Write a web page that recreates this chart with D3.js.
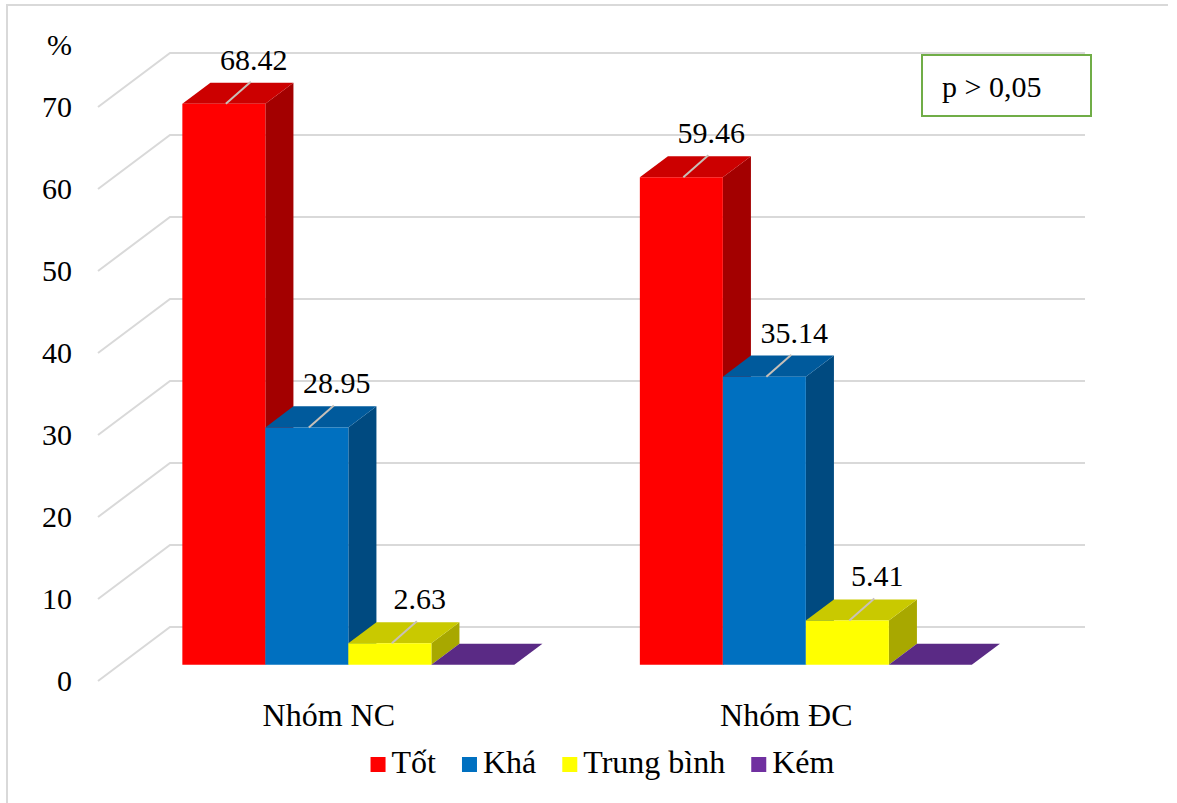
<!DOCTYPE html>
<html>
<head>
<meta charset="utf-8">
<script src="https://cdn.jsdelivr.net/npm/d3@7"></script>
<style>
  html, body { margin: 0; padding: 0; background: #fff; }
  svg { display: block; }
</style>
</head>
<body>
<script>
// Chart data
const categories = ["Nhóm NC", "Nhóm ĐC"];
const seriesNames = ["Tốt", "Khá", "Trung bình", "Kém"];
const tot = [68.42, 59.46];
const kha = [28.95, 35.14];
const trungBinh = [2.63, 5.41];
const kem = [0, 0];
const yTicks = [0, 10, 20, 30, 40, 50, 60, 70];
const yUnit = "%";
const pNote = "p > 0,05";

const seriesValues = [tot, kha, trungBinh, kem];
// face colours per series: front, top, right side
const seriesColors = [
  { front: "#ff0000", top: "#cc0000", side: "#a30000" },
  { front: "#0070c0", top: "#005a9c", side: "#004a80" },
  { front: "#ffff00", top: "#c9c900", side: "#a8a800" },
  { front: "#7030a0", top: "#5a2a85", side: "#4b2270" }
];

const FONT = "'Liberation Serif', 'Times New Roman', Tinos, 'DejaVu Serif', serif";
const W = 1177, H = 803;
const svg = d3.select("body").append("svg").attr("width", W).attr("height", H)
  .style("font-family", FONT);

const label = (sel, size) => sel.style("font-family", FONT).style("font-size", size + "px").attr("fill", "#000");

// outer frame (top and left edges)
svg.append("path")
  .attr("d", `M7,${H} L7,5 L1168,5`)
  .attr("fill", "none").attr("stroke", "#d9d9d9").attr("stroke-width", 2);

// scales: front plane of the floor, oblique depth vector
const x0 = d3.scaleBand().domain(categories).range([98, 1013]).padding(0);
const x1 = d3.scaleBand().domain(seriesNames).range([0, x0.bandwidth()])
  .paddingInner(0).paddingOuter(0.756);
const y = d3.scaleLinear().domain([0, 70]).range([681, 107]);
const depth = { dx: 72, dy: -54 };
const z0 = 0.3, z1 = 0.69;
const P = (x, v, z) => [x + z * depth.dx, y(v) + z * depth.dy];
const poly = pts => "M" + pts.map(p => p.join(",")).join("L") + "Z";

// gridlines: side wall diagonal + back wall horizontal
const grid = svg.append("g");
yTicks.forEach(t => {
  const a = P(x0.range()[0], t, 0), b = P(x0.range()[0], t, 1), c = P(x0.range()[1], t, 1);
  grid.append("path")
    .attr("d", `M${a}L${b}L${c}`)
    .attr("fill", "none").attr("stroke", "#d9d9d9").attr("stroke-width", 2);
});

// value axis labels
const axis = svg.append("g")
  .attr("transform", `translate(${x0.range()[0]},0)`)
  .call(d3.axisLeft(y).tickValues(yTicks).tickSize(0).tickPadding(26).tickFormat(d3.format("d")));
axis.attr("font-family", null).attr("font-size", null);
axis.select(".domain").remove();
label(axis.selectAll("text"), 30);

label(svg.append("text").attr("x", 72).attr("y", 55).attr("text-anchor", "end"), 30).text(yUnit);

// 3D bars
const bars = svg.append("g");
const labels = svg.append("g");
categories.forEach((cat, i) => {
  seriesNames.forEach((s, j) => {
    const v = seriesValues[j][i];
    const col = seriesColors[j];
    const xl = x0(cat) + x1(s), xr = xl + x1.bandwidth();
    const g = bars.append("g");
    if (v > 0) {
      g.append("path").attr("d", poly([P(xr, 0, z0), P(xr, 0, z1), P(xr, v, z1), P(xr, v, z0)]))
        .attr("fill", col.side);
    }
    g.append("path").attr("d", poly([P(xl, v, z0), P(xr, v, z0), P(xr, v, z1), P(xl, v, z1)]))
      .attr("fill", col.top);
    if (v > 0) {
      g.append("path").attr("d", poly([P(xl, 0, z0), P(xr, 0, z0), P(xr, v, z0), P(xl, v, z0)]))
        .attr("fill", col.front);
      const [cx, ty] = P((xl + xr) / 2, v, z0);
      labels.append("line")
        .attr("x1", cx + 2).attr("y1", ty)
        .attr("x2", cx + 27).attr("y2", ty - 22)
        .attr("stroke", "#c8c0b8").attr("stroke-width", 2);
      label(labels.append("text")
        .attr("x", cx + 30).attr("y", ty - 34)
        .attr("text-anchor", "middle"), 30)
        .text(v.toFixed(2));
    }
  });
});

// category labels
label(svg.append("g").selectAll("text").data(categories).join("text")
  .attr("x", d => x0(d) + x0.bandwidth() / 2 + 2)
  .attr("y", 726)
  .attr("text-anchor", "middle"), 32)
  .text(d => d);

// legend
const legend = svg.append("g");
const items = legend.selectAll("g").data(seriesNames).join("g");
items.append("rect").attr("width", 15).attr("height", 15).attr("y", 757)
  .attr("fill", (d, j) => seriesColors[j].front);
label(items.append("text").attr("y", 773), 32).text(d => d);
let lx = 0;
const offsets = [];
items.each(function () {
  const tw = d3.select(this).select("text").node().getComputedTextLength();
  offsets.push(lx);
  lx += 15 + 6 + tw + 26;
});
const total = lx - 26;
const startX = 602.5 - total / 2;
items.each(function (d, j) {
  const g = d3.select(this);
  g.select("rect").attr("x", startX + offsets[j]);
  g.select("text").attr("x", startX + offsets[j] + 21);
});

// significance note
svg.append("rect").attr("x", 922).attr("y", 55).attr("width", 169).attr("height", 61)
  .attr("fill", "#fff").attr("stroke", "#70ad47").attr("stroke-width", 2);
label(svg.append("text").attr("x", 942).attr("y", 97), 30).text(pNote);
</script>
</body>
</html>
